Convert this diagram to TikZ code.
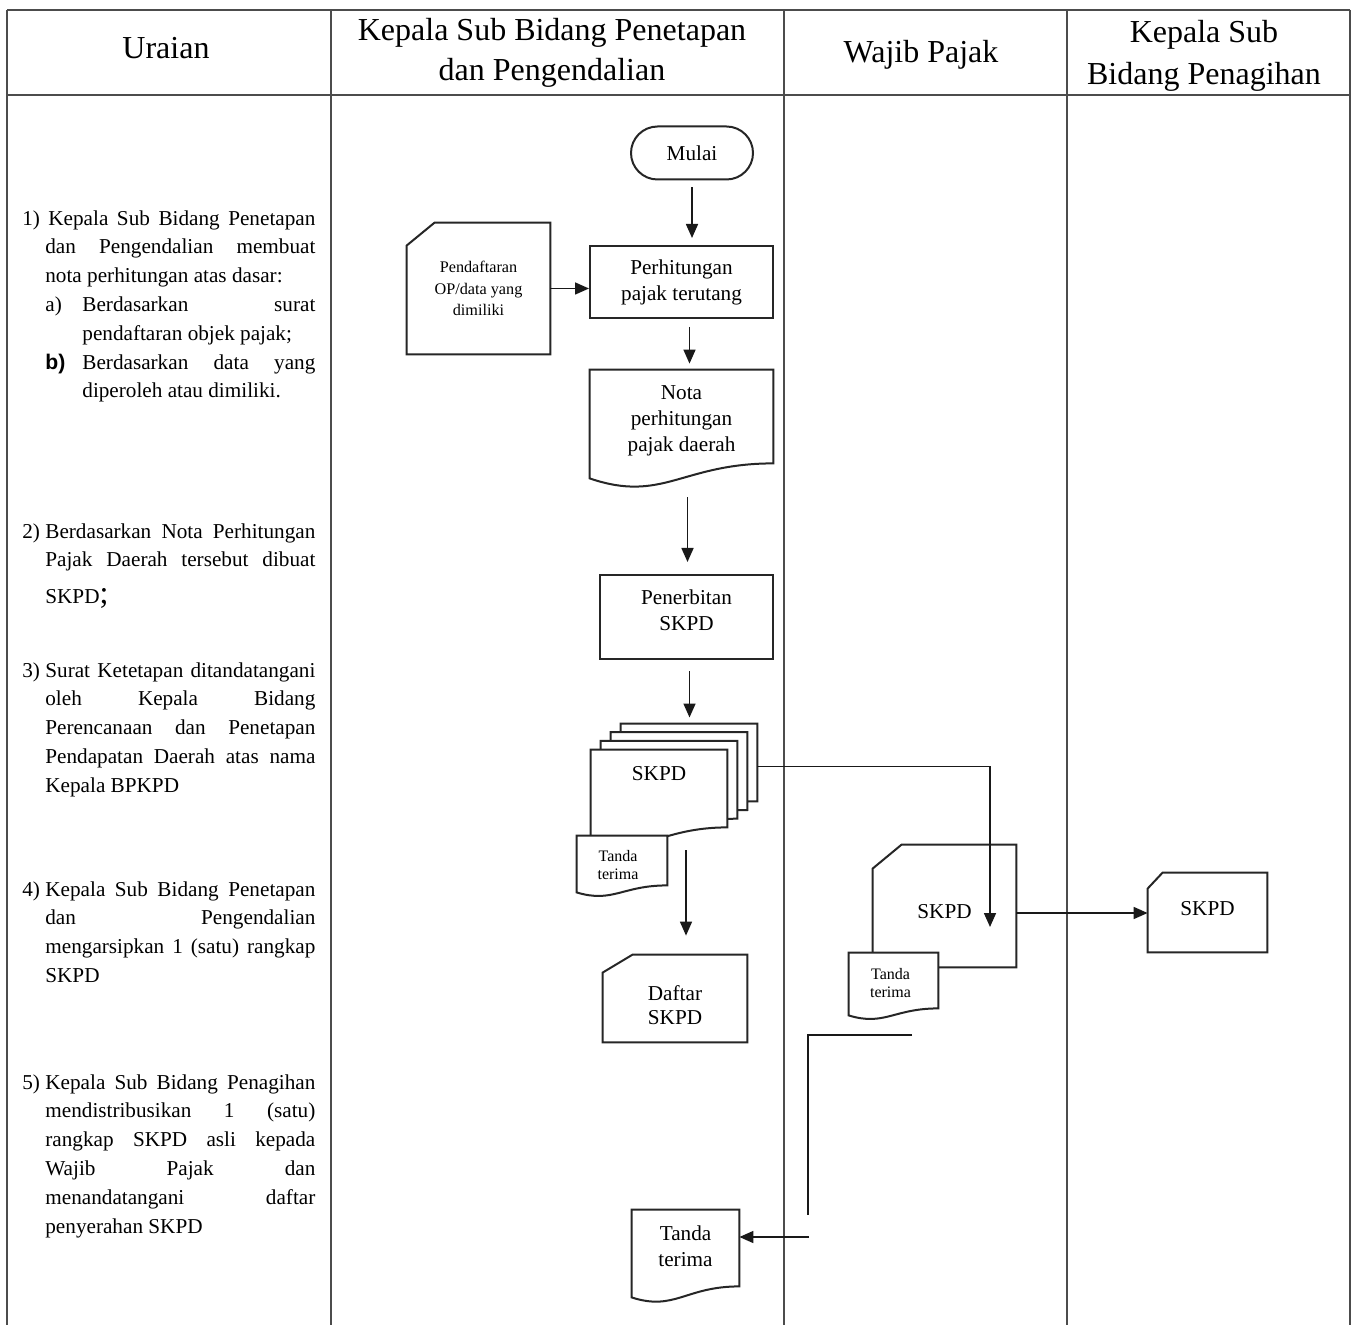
\documentclass[tikz,border=0pt]{standalone}
\usepackage{fontspec}
\setmainfont{Liberation Serif}
\setsansfont{Liberation Sans}
\usetikzlibrary{calc,shapes.misc,arrows.meta}

\pgfdeclarelayer{bg}
\pgfsetlayers{bg,main}

% card outline: top-left corner cut off by (#2,#3)
\newcommand{\cardpath}[3]{%
  \draw[shapeline, fill=white] ($(#1.north west)+(#2,0)$) -- (#1.north east) -- (#1.south east)
    -- (#1.south west) -- ($(#1.north west)+(0,#3)$) -- cycle;}
% document outline: wavy lower edge, left end dropped by #2, control depth #3
\newcommand{\docpath}[3]{%
  \draw[shapeline, fill=white] (#1.south east) -- (#1.north east) -- (#1.north west)
    -- ($(#1.south west)+(0,#2)$)
    .. controls ($(#1.south west)!0.4!(#1.south east)+(0,#3)$) and ($(#1.south west)!0.5!(#1.south east)$) .. (#1.south east) -- cycle;}

\begin{document}
\begin{tikzpicture}[x=0.5pt,y=-0.5pt,
  grid/.style={line width=0.6pt, draw=black!70},
  shapeline/.style={line width=1pt, draw=black!85},
  arr/.style={line width=0.8pt, draw=black!90, -{Triangle[length=7pt,width=6pt]}},
  plainline/.style={line width=0.8pt, draw=black!90},
  head/.style={inner sep=0pt, align=center, font=\fontsize{16}{20}\selectfont},
  flow/.style={rectangle, inner sep=0pt, align=center, font=\fontsize{10.6}{13}\selectfont},
  procbox/.style={flow, shapeline},
  smallflow/.style={rectangle, inner sep=0pt, align=center, font=\fontsize{8}{9}\selectfont},
  desc/.style={anchor=north west, inner sep=0pt, text width=146.5pt, align=justify,
    font=\fontsize{10.6}{14.4}\selectfont},
]
\useasboundingbox (0,0) rectangle (1353,1325);

% ---------- page and table frame ----------
\begin{pgfonlayer}{bg}
\fill[white] (0,0) rectangle (1353,1325);
\end{pgfonlayer}
\draw[grid] (7,10) -- (1350,10);
\draw[grid] (7,95) -- (1350,95);
\foreach \cx in {7,331,784,1067,1350}
  \draw[grid] (\cx,10) -- (\cx,1325);

% ---------- column headings ----------
\node[head] (hUraian) at (166,48) {Uraian};
\node[head] (hPenetapan) at (552,53) {Kepala Sub Bidang Penetapan\\dan Pengendalian};
\node[head] (hWajib) at (921,55) {Wajib Pajak};
\node[head, font=\fontsize{16}{21}\selectfont] (hPenagihan) at (1204,56) {Kepala Sub\\Bidang Penagihan};

% ---------- description column ----------
\node[desc] (u1) at (22,210) {\tolerance=10000\hbadness=10000
  \noindent\hangindent=11.5pt\hangafter=1\makebox[11.5pt][l]{1)}\hspace{1.5pt}Kepala Sub Bidang Penetapan\linebreak
  dan Pengendalian membuat\linebreak nota perhitungan atas dasar:\par
  \leftskip=11.5pt
  \noindent\hangindent=18.5pt\hangafter=1\makebox[18.5pt][l]{a)}Berdasarkan surat\linebreak
  pendaftaran objek pajak;\par
  \noindent\hangindent=18.5pt\hangafter=1\makebox[18.5pt][l]{\textsf{\bfseries b)}}Berdasarkan data yang\linebreak
  diperoleh atau dimiliki.\par};

\node[desc] (u2) at (22,523) {\tolerance=10000\hbadness=10000
  \noindent\hangindent=11.5pt\hangafter=1\makebox[11.5pt][l]{2)}Berdasarkan Nota Perhitungan\linebreak
  Pajak Daerah tersebut dibuat{\parfillskip=0pt\par}
  \vspace{4pt}\noindent\hspace*{11.5pt}SKPD{\fontsize{16}{14.4}\selectfont;}\par};

\node[desc] (u3) at (22,662) {\tolerance=10000\hbadness=10000
  \noindent\hangindent=11.5pt\hangafter=1\makebox[11.5pt][l]{3)}Surat Ketetapan ditandatangani\linebreak
  oleh Kepala Bidang\linebreak Perencanaan dan Penetapan\linebreak
  Pendapatan Daerah atas nama\linebreak Kepala BPKPD\par};

\node[desc] (u4) at (22,881) {\tolerance=10000\hbadness=10000
  \noindent\hangindent=11.5pt\hangafter=1\makebox[11.5pt][l]{4)}Kepala Sub Bidang Penetapan\linebreak
  dan Pengendalian\linebreak mengarsipkan 1 (satu) rangkap\linebreak SKPD\par};

\node[desc] (u5) at (22,1074) {\tolerance=10000\hbadness=10000
  \noindent\hangindent=11.5pt\hangafter=1\makebox[11.5pt][l]{5)}Kepala Sub Bidang Penagihan\linebreak
  mendistribusikan 1 (satu)\linebreak rangkap SKPD asli kepada\linebreak
  Wajib Pajak dan\linebreak menandatangani daftar\linebreak penyerahan SKPD\par};

% ---------- flow: Kepala Sub Bidang Penetapan dan Pengendalian ----------
\node[rounded rectangle, draw, shapeline, inner sep=0pt, minimum width=61pt, minimum height=26.5pt,
  font=\fontsize{10.6}{13}\selectfont] (mulai) at (692,153) {Mulai};

\node[procbox, minimum width=91.5pt, minimum height=36pt] (perh) at (681.5,282)
  {Perhitungan\\pajak terutang};

\node[smallflow, minimum width=71.5pt, minimum height=65.5pt, font=\fontsize{8.1}{10.75}\selectfont]
  (pend) at (478.5,288.5) {Pendaftaran\\OP/data yang\\dimiliki};

\node[flow, minimum width=91.5pt, minimum height=46.5pt] (nota) at (681.5,416.5) {};
\node[flow] (notaT) at ($(nota.center)+(0,4.5)$) {Nota\\perhitungan\\pajak daerah};

\node[procbox, minimum width=86.5pt, minimum height=42pt] (terbit) at (686.5,617) {};
\node[flow] (terbitT) at ($(terbit.center)+(0,-6.5)$) {Penerbitan\\SKPD};

% stacked SKPD copies (back to front)
\node[flow, minimum width=68pt, minimum height=38.5pt] (skpdC) at (689,762.4) {};
\node[flow, minimum width=68pt, minimum height=38.5pt] (skpdB) at (679,771.1) {};
\node[flow, minimum width=68pt, minimum height=38.5pt] (skpdA) at (669,779.8) {};
\node[flow, minimum width=68pt, minimum height=38.5pt] (skpd) at (659,788.5) {};
\node[flow] (skpdT) at ($(skpd.center)+(0,-15)$) {SKPD};

\node[smallflow, minimum width=45pt, minimum height=24.5pt] (tt1) at (622,860.5) {};
\node[smallflow] (tt1T) at ($(tt1.center)+(-4,5)$) {Tanda\\terima};

\node[flow, minimum width=72pt, minimum height=43.5pt] (daftar) at (675,998.5) {};
\node[flow, font=\fontsize{10.6}{12}\selectfont] (daftarT) at ($(daftar.center)+(0,6.5)$) {Daftar\\SKPD};

\node[flow, minimum width=53.5pt, minimum height=38pt] (tt3) at (685.5,1248) {};
\node[flow] (tt3T) at ($(tt3.center)+(0,-1.5)$) {Tanda\\terima};

% ---------- flow: Wajib Pajak ----------
\node[flow, minimum width=71.5pt, minimum height=61pt] (wpskpd) at (944.5,906) {};
\node[flow] (wpskpdT) at ($(wpskpd.center)+(0,6)$) {SKPD};
\node[smallflow, minimum width=44.5pt, minimum height=27.5pt] (tt2) at (893.5,980.5) {};
\node[smallflow] (tt2T) at ($(tt2.center)+(-3,3)$) {Tanda\\terima};

% ---------- flow: Kepala Sub Bidang Penagihan ----------
\node[flow, minimum width=59.5pt, minimum height=39.5pt] (pgskpd) at (1207.5,912.5) {};
\node[flow] (pgskpdT) at ($(pgskpd.center)+(0,-4)$) {SKPD};

% ---------- symbol outlines ----------
\begin{pgfonlayer}{bg}
\docpath{nota}{15}{40}
\cardpath{pend}{28}{23}
\docpath{skpdC}{11}{30}
\docpath{skpdB}{11}{30}
\docpath{skpdA}{11}{30}
\docpath{skpd}{11}{30}
\docpath{tt1}{7}{18}
\cardpath{daftar}{30}{18}
\docpath{tt3}{11}{25}
\cardpath{wpskpd}{29}{24}
\docpath{tt2}{7}{18}
\cardpath{pgskpd}{15}{16}
\end{pgfonlayer}

% ---------- connectors ----------
\draw[arr, shorten <=3.5pt, shorten >=3.5pt] (mulai.south) -- (mulai.south |- perh.north);
\draw[arr] (pend.east) -- (pend.east -| perh.west);
\coordinate (perhout) at ($(perh.south)+(8,0)$);
\draw[arr, shorten <=4pt, shorten >=3pt] (perhout) -- (perhout |- nota.north);
\coordinate (notaout) at ($(nota.south)+(6,0)$);
\draw[arr, shorten <=17pt, shorten >=6pt] (notaout) -- (notaout |- terbit.north);
\coordinate (terbitout) at ($(terbit.south)+(3,0)$);
\draw[arr, shorten <=5.5pt, shorten >=3pt] (terbitout) -- (terbitout |- skpdC.north);

\coordinate (wpin) at (990,927);
\draw[arr] ($(skpdC.east)+(0,4)$) -| (wpin);

\coordinate (arsip) at (686,850);
\draw[arr, shorten >=9.5pt] (arsip) -- (arsip |- daftar.north);

\coordinate (wpout) at ($(wpskpd.east)+(0,7)$);
\draw[arr] (wpout) -- (wpout -| pgskpd.west);

\coordinate (retA) at (912,1035);
\coordinate (retB) at (808,1215);
\draw[plainline] (retA) -| (retB);
\coordinate (retC) at (809,1237);
\draw[arr] (retC) -- (retC -| tt3.east);

\end{tikzpicture}
\end{document}
